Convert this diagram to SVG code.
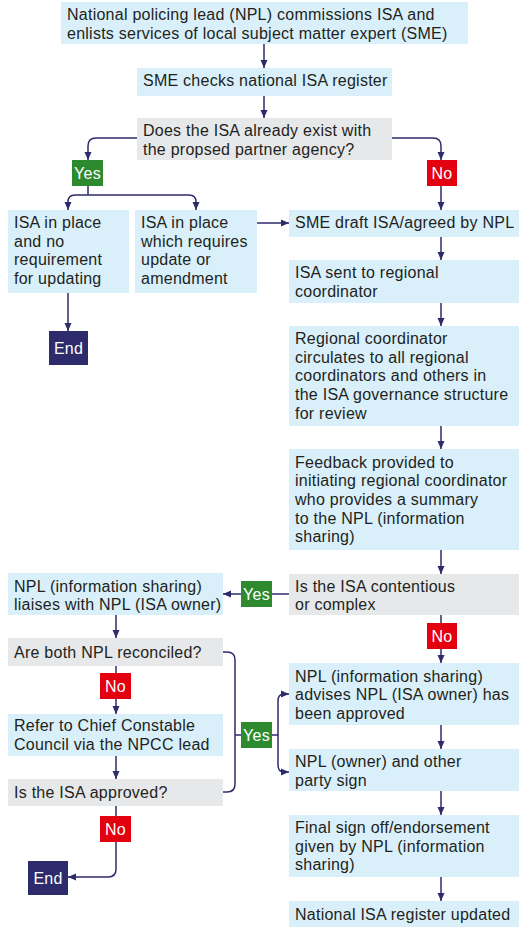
<svg xmlns="http://www.w3.org/2000/svg" width="519" height="927" viewBox="0 0 519 927">
<style>
.b{fill:#d9f0fb}
.g{fill:#e6e8ea}
.t{font-family:"Liberation Sans",Arial,sans-serif;font-size:16px;letter-spacing:0.25px;fill:#231f20}
.w{font-family:"Liberation Sans",Arial,sans-serif;font-size:16px;letter-spacing:0.25px;fill:#ffffff;text-anchor:middle}
.yes{fill:#2e8a2e}
.no{fill:#e3000f}
.end{fill:#2e2b6c}
.c{fill:none;stroke:#2e2b6c;stroke-width:1.5}
</style>
<defs>
<marker id="ah" markerUnits="userSpaceOnUse" markerWidth="8" markerHeight="8" refX="8" refY="4" orient="auto">
<path d="M0,0.5 L8,4 L0,7.5 z" fill="#2e2b6c"/>
</marker>
</defs>
<rect width="519" height="927" fill="#ffffff"/>
<g id="connectors">
<path class="c" d="M264,44 V68" marker-end="url(#ah)"/>
<path class="c" d="M264,96 V118" marker-end="url(#ah)"/>
<path class="c" d="M137,138 H96 Q88,138 88,146 V160" marker-end="url(#ah)"/>
<path class="c" d="M392,138 H433 Q441,138 441,146 V160" marker-end="url(#ah)"/>
<path class="c" d="M88,186 V195"/>
<path class="c" d="M88,195 H75 Q68,195 68,202 V210" marker-end="url(#ah)"/>
<path class="c" d="M88,195 H189 Q196,195 196,202 V210" marker-end="url(#ah)"/>
<path class="c" d="M441,186 V210" marker-end="url(#ah)"/>
<path class="c" d="M257,223 H289" marker-end="url(#ah)"/>
<path class="c" d="M68,293 V331" marker-end="url(#ah)"/>
<path class="c" d="M441,237 V260" marker-end="url(#ah)"/>
<path class="c" d="M441,303 V326" marker-end="url(#ah)"/>
<path class="c" d="M441,426 V449" marker-end="url(#ah)"/>
<path class="c" d="M441,550 V574" marker-end="url(#ah)"/>
<path class="c" d="M289,594 H223" marker-end="url(#ah)"/>
<path class="c" d="M441,615 V663" marker-end="url(#ah)"/>
<path class="c" d="M441,725 V749" marker-end="url(#ah)"/>
<path class="c" d="M441,791 V815" marker-end="url(#ah)"/>
<path class="c" d="M441,877 V901" marker-end="url(#ah)"/>
<path class="c" d="M116,615 V638" marker-end="url(#ah)"/>
<path class="c" d="M116,666 V714" marker-end="url(#ah)"/>
<path class="c" d="M116,756 V779" marker-end="url(#ah)"/>
<path class="c" d="M116,806 V869 Q116,877 108,877 H68" marker-end="url(#ah)"/>
<path class="c" d="M223,652 H227 Q235,652 235,660 V784 Q235,792 227,792 H223"/>
<path class="c" d="M235,735 H278"/>
<path class="c" d="M278,735 V701 Q278,694 284,694 H289" marker-end="url(#ah)"/>
<path class="c" d="M278,735 V765 Q278,772 284,772 H289" marker-end="url(#ah)"/>
</g>
<g id="n1"><rect class="b" x="61" y="2" width="407" height="42"/><text class="t" x="67" y="20">National policing lead (NPL) commissions ISA and<tspan x="67" y="38.5">enlists services of local subject matter expert (SME)</tspan></text></g>
<g id="n2"><rect class="b" x="137" y="68" width="255" height="28"/><text class="t" x="143" y="86">SME checks national ISA register</text></g>
<g id="n3"><rect class="g" x="137" y="118" width="255" height="42"/><text class="t" x="143" y="136">Does the ISA already exist with<tspan x="143" y="154.5">the propsed partner agency?</tspan></text></g>
<g id="yes1"><rect class="yes" x="72" y="160" width="31" height="26"/><text class="w" x="87.5" y="179">Yes</text></g>
<g id="no1"><rect class="no" x="427" y="160" width="30" height="26"/><text class="w" x="442" y="179">No</text></g>
<g id="n4"><rect class="b" x="8" y="210" width="121" height="83"/><text class="t" x="14" y="228">ISA in place<tspan x="14" y="246.7">and no</tspan><tspan x="14" y="265.4">requirement</tspan><tspan x="14" y="284">for updating</tspan></text></g>
<g id="n5"><rect class="b" x="135" y="210" width="122" height="83"/><text class="t" x="141" y="228">ISA in place<tspan x="141" y="246.7">which requires</tspan><tspan x="141" y="265.4">update or</tspan><tspan x="141" y="284">amendment</tspan></text></g>
<g id="end1"><rect class="end" x="49" y="331" width="39" height="34"/><text class="w" x="68.5" y="354">End</text></g>
<g id="n6"><rect class="b" x="289" y="210" width="230" height="27"/><text class="t" x="295" y="228">SME draft ISA/agreed by NPL</text></g>
<g id="n7"><rect class="b" x="289" y="260" width="230" height="43"/><text class="t" x="295" y="278">ISA sent to regional<tspan x="295" y="296.5">coordinator</tspan></text></g>
<g id="n8"><rect class="b" x="289" y="326" width="230" height="100"/><text class="t" x="295" y="344">Regional coordinator<tspan x="295" y="362.7">circulates to all regional</tspan><tspan x="295" y="381.4">coordinators and others in</tspan><tspan x="295" y="400.1">the ISA governance structure</tspan><tspan x="295" y="418.8">for review</tspan></text></g>
<g id="n9"><rect class="b" x="289" y="449" width="230" height="101"/><text class="t" x="295" y="467.5">Feedback provided to<tspan x="295" y="486.2">initiating regional coordinator</tspan><tspan x="295" y="504.9">who provides a summary</tspan><tspan x="295" y="523.6">to the NPL (information</tspan><tspan x="295" y="542.3">sharing)</tspan></text></g>
<g id="n10"><rect class="g" x="289" y="574" width="230" height="41"/><text class="t" x="295" y="591.5">Is the ISA contentious<tspan x="295" y="610">or complex</tspan></text></g>
<g id="yes2"><rect class="yes" x="241" y="581" width="31" height="26"/><text class="w" x="256.5" y="600">Yes</text></g>
<g id="no2"><rect class="no" x="427" y="623" width="30" height="26"/><text class="w" x="442" y="642">No</text></g>
<g id="n11"><rect class="b" x="8" y="573" width="215" height="42"/><text class="t" x="14" y="591.5">NPL (information sharing)<tspan x="14" y="610">liaises with NPL (ISA owner)</tspan></text></g>
<g id="n12"><rect class="g" x="8" y="638" width="215" height="28"/><text class="t" x="14" y="657.5">Are both NPL reconciled?</text></g>
<g id="no3"><rect class="no" x="100" y="673" width="31" height="26"/><text class="w" x="115.5" y="692">No</text></g>
<g id="n13"><rect class="b" x="8" y="714" width="215" height="42"/><text class="t" x="14" y="731">Refer to Chief Constable<tspan x="14" y="749.5">Council via the NPCC lead</tspan></text></g>
<g id="n14"><rect class="g" x="8" y="779" width="215" height="27"/><text class="t" x="14" y="798">Is the ISA approved?</text></g>
<g id="no4"><rect class="no" x="100" y="816" width="31" height="26"/><text class="w" x="115.5" y="835">No</text></g>
<g id="end2"><rect class="end" x="28" y="861" width="40" height="34"/><text class="w" x="48" y="884">End</text></g>
<g id="yes3"><rect class="yes" x="241" y="722" width="31" height="26"/><text class="w" x="256.5" y="741">Yes</text></g>
<g id="n15"><rect class="b" x="289" y="663" width="230" height="62"/><text class="t" x="295" y="681.5">NPL (information sharing)<tspan x="295" y="700.2">advises NPL (ISA owner) has</tspan><tspan x="295" y="718.9">been approved</tspan></text></g>
<g id="n16"><rect class="b" x="289" y="749" width="230" height="42"/><text class="t" x="295" y="767">NPL (owner) and other<tspan x="295" y="785.5">party sign</tspan></text></g>
<g id="n17"><rect class="b" x="289" y="815" width="230" height="62"/><text class="t" x="295" y="833">Final sign off/endorsement<tspan x="295" y="851.7">given by NPL (information</tspan><tspan x="295" y="870.4">sharing)</tspan></text></g>
<g id="n18"><rect class="b" x="289" y="901" width="230" height="26"/><text class="t" x="295" y="920">National ISA register updated</text></g>
</svg>
